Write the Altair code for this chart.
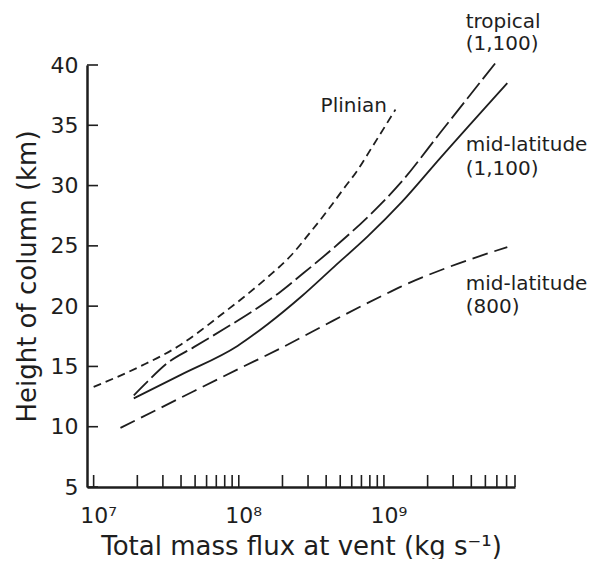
import altair as alt
import pandas as pd

# ---- data ----
plinian_x = [1.0e7, 2.09e7, 3.98e7, 5.5e7, 7.4e7, 1.07e8, 1.58e8, 2.29e8, 3.1e8, 4.07e8, 5.25e8, 6.6e8, 8.1e8, 1.2e9]
plinian_y = [13.3, 15.0, 16.8, 18.0, 19.2, 20.7, 22.4, 24.2, 26.1, 27.9, 29.7, 31.3, 33.0, 36.3]

tropical_x = [1.89e7, 2.33e7, 3.2e7, 4.9e7, 7.9e7, 1.27e8, 1.94e8, 2.7e8, 4.57e8, 7.9e8, 1.32e9, 2.45e9, 5.9e9]
tropical_y = [12.6, 13.7, 15.25, 16.6, 18.1, 19.65, 21.2, 22.6, 24.9, 27.5, 30.3, 34.4, 40.2]

midlat1100_x = [1.89e7, 3.98e7, 9.8e7, 1.58e8, 2.7e8, 4.57e8, 7.76e8, 1.32e9, 2.45e9, 7.08e9]
midlat1100_y = [12.35, 14.3, 16.7, 18.5, 20.8, 23.3, 25.8, 28.6, 32.3, 38.5]

midlat800_x = [1.53e7, 3.98e7, 1.0e8, 1.94e8, 4.47e8, 9.5e8, 1.3e9, 2.74e9, 7.08e9]
midlat800_y = [9.9, 12.4, 14.8, 16.5, 18.8, 20.8, 21.6, 23.2, 24.9]

label_text = ["tropical", "(1,100)", "Plinian", "mid-latitude", "(1,100)", "mid-latitude", "(800)"]
label_x = [3.66e9, 3.66e9, 3.66e8, 3.66e9, 3.66e9, 3.66e9, 3.66e9]
label_y = [43.07, 41.25, 36.1, 32.9, 30.85, 21.34, 19.45]

y_ticks = [5, 10, 15, 20, 25, 30, 35, 40]
x_major = [1e7, 1e8, 1e9]
x_minor = [m * 10 ** e for e in (7, 8, 9) for m in range(1, 10) if m * 10 ** e <= 8e9]

W, H = 428, 422
FONT = "DejaVu Sans"
INK = "#1e1e1e"

x_scale = alt.Scale(type="log", domain=[9e6, 8e9], nice=False)
y_scale = alt.Scale(domain=[5, 40], nice=False, zero=False)

x_axis = alt.Axis(
    values=x_major,
    labelExpr="datum.value == 1e7 ? '10\u2077' : datum.value == 1e8 ? '10\u2078' : '10\u2079'",
    ticks=False, tickSize=0, grid=False,
    domainColor=INK, domainWidth=2.5,
    labelFont=FONT, labelFontSize=22, labelColor=INK,
    labelAlign="left", labelOffset=-14, labelBaseline="alphabetic", labelPadding=35,
    title="Total mass flux at vent (kg s\u207b\u00b9)",
    titleFont=FONT, titleFontSize=26, titleFontWeight="normal", titleColor=INK,
    titleBaseline="alphabetic", titleY=67,
)
y_axis = alt.Axis(
    values=y_ticks,
    ticks=False, tickSize=0, grid=False,
    domainColor=INK, domainWidth=2.5,
    labelFont=FONT, labelFontSize=22, labelColor=INK, labelPadding=9,
    title="Height of column (km)",
    titleFont=FONT, titleFontSize=26, titleFontWeight="normal", titleColor=INK,
    titleAngle=270, titleBaseline="alphabetic", titleX=-52, titleY=H / 2,
)


def X(field):
    return alt.X(field, scale=x_scale, axis=x_axis)


def Y(field):
    return alt.Y(field, scale=y_scale, axis=y_axis)


def series_df(xs, ys):
    return pd.DataFrame({"flux": xs, "height": ys, "i": list(range(len(xs)))})


def line(xs, ys, dash=None):
    kw = dict(color=INK, strokeWidth=1.8, interpolate="monotone", clip=False)
    if dash:
        kw["strokeDash"] = dash
    return alt.Chart(series_df(xs, ys)).mark_line(**kw).encode(
        x=X("flux:Q"), y=Y("height:Q"), order="i:Q",
    )


plinian = line(plinian_x, plinian_y, [8, 5])
tropical = line(tropical_x, tropical_y, [20, 5])
midlat1100 = line(midlat1100_x, midlat1100_y)
midlat800 = line(midlat800_x, midlat800_y, [16, 7])

ytick_layer = alt.Chart(pd.DataFrame({"height": y_ticks})).mark_rule(color=INK, strokeWidth=1.6).encode(
    y=Y("height:Q"), x=alt.value(0), x2=alt.value(11),
)
xtick_layer = alt.Chart(pd.DataFrame({"flux": x_minor})).mark_rule(color=INK, strokeWidth=1.6).encode(
    x=X("flux:Q"), y=alt.value(H), y2=alt.value(H - 12),
)

labels = alt.Chart(pd.DataFrame({"flux": label_x, "height": label_y, "t": label_text})).mark_text(
    align="left", baseline="alphabetic", font=FONT, fontSize=20, color=INK, clip=False
).encode(
    x=X("flux:Q"), y=Y("height:Q"), text="t:N",
)

chart = alt.layer(
    plinian, tropical, midlat1100, midlat800, ytick_layer, xtick_layer, labels
).properties(
    width=W, height=H,
    autosize=alt.AutoSizeParams(type="none"),
    padding={"left": 79, "top": 57, "right": 75, "bottom": 72},
).configure(background="white").configure_view(stroke=None)

chart.save("out.html", embed_options={"renderer": "svg", "actions": False})
